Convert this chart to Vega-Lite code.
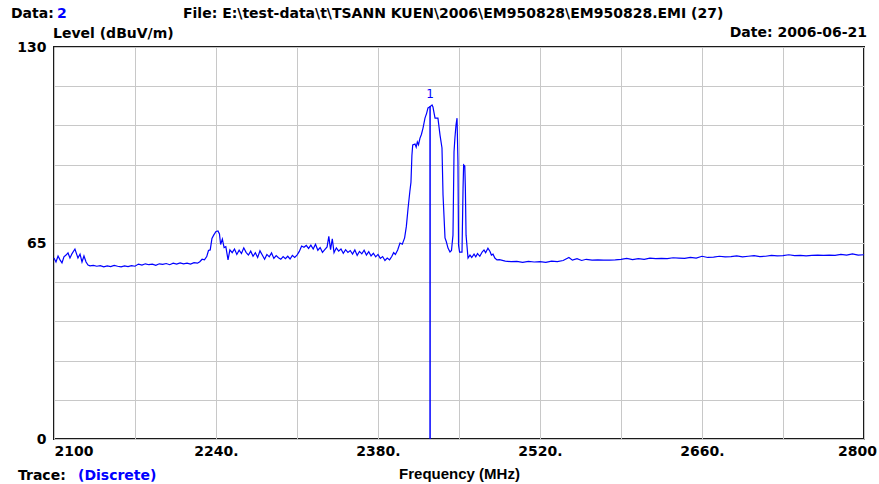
{
  "$schema": "https://vega.github.io/schema/vega-lite/v6.json",
  "width": 810,
  "height": 392,
  "autosize": "none",
  "padding": {"left": 54, "top": 47, "right": 15, "bottom": 45},
  "background": "white",
  "config": {"view": {"stroke": "#1a1a1a", "strokeWidth": 2}, "font": "DejaVu Sans"},
  "datasets": {
    "trace": [
      {"freq": 2100, "level": 60.0}, {"freq": 2101.7, "level": 58.7}, {"freq": 2103.5, "level": 60.7}, {"freq": 2105.2, "level": 59.4},
      {"freq": 2106.9, "level": 58.4}, {"freq": 2108.6, "level": 60.4}, {"freq": 2110.4, "level": 61.0}, {"freq": 2112.1, "level": 61.7},
      {"freq": 2113.8, "level": 60.0}, {"freq": 2115.6, "level": 61.5}, {"freq": 2118.1, "level": 63.0}, {"freq": 2120.7, "level": 60.0},
      {"freq": 2122.5, "level": 61.3}, {"freq": 2124.2, "level": 58.7}, {"freq": 2125.9, "level": 60.7}, {"freq": 2127.7, "level": 58.7},
      {"freq": 2129.4, "level": 57.7}, {"freq": 2131.1, "level": 57.4}, {"freq": 2134, "level": 57.6}, {"freq": 2137, "level": 57.3},
      {"freq": 2140, "level": 57.5}, {"freq": 2143, "level": 57.1}, {"freq": 2146, "level": 57.4}, {"freq": 2149, "level": 57.2},
      {"freq": 2152, "level": 57.6}, {"freq": 2155, "level": 57.3}, {"freq": 2158, "level": 57.1}, {"freq": 2161, "level": 57.4},
      {"freq": 2164, "level": 57.2}, {"freq": 2167, "level": 57.5}, {"freq": 2170, "level": 57.3}, {"freq": 2173, "level": 58.0},
      {"freq": 2176, "level": 57.7}, {"freq": 2179, "level": 58.1}, {"freq": 2182, "level": 57.8}, {"freq": 2185, "level": 58.0},
      {"freq": 2188, "level": 57.6}, {"freq": 2191, "level": 58.1}, {"freq": 2194, "level": 57.9}, {"freq": 2197, "level": 58.2},
      {"freq": 2200, "level": 57.8}, {"freq": 2203, "level": 58.3}, {"freq": 2206, "level": 58.0}, {"freq": 2209, "level": 58.4},
      {"freq": 2212, "level": 58.1}, {"freq": 2215, "level": 58.3}, {"freq": 2218, "level": 58.0}, {"freq": 2221, "level": 58.5},
      {"freq": 2224, "level": 58.3}, {"freq": 2226, "level": 58.8}, {"freq": 2228, "level": 59.6}, {"freq": 2230, "level": 59.4},
      {"freq": 2232, "level": 60.5}, {"freq": 2233.5, "level": 62.5}, {"freq": 2235, "level": 62.7}, {"freq": 2236.5, "level": 66.5},
      {"freq": 2238, "level": 67.6}, {"freq": 2240, "level": 68.8}, {"freq": 2241.7, "level": 69.0}, {"freq": 2243, "level": 68.0},
      {"freq": 2244, "level": 64.5}, {"freq": 2245.5, "level": 66.3}, {"freq": 2247, "level": 63.5}, {"freq": 2248.5, "level": 63.8},
      {"freq": 2250.4, "level": 59.4}, {"freq": 2252, "level": 62.7}, {"freq": 2254, "level": 61.8}, {"freq": 2256, "level": 63.0},
      {"freq": 2258, "level": 61.2}, {"freq": 2260, "level": 62.6}, {"freq": 2262, "level": 61.5}, {"freq": 2264, "level": 63.4},
      {"freq": 2266, "level": 61.9}, {"freq": 2268, "level": 61.0}, {"freq": 2270, "level": 62.3}, {"freq": 2272, "level": 60.6},
      {"freq": 2274, "level": 61.8}, {"freq": 2276, "level": 60.2}, {"freq": 2278, "level": 62.4}, {"freq": 2280, "level": 61.0},
      {"freq": 2282, "level": 59.6}, {"freq": 2284, "level": 61.2}, {"freq": 2286, "level": 60.4}, {"freq": 2288, "level": 61.7},
      {"freq": 2290, "level": 59.9}, {"freq": 2292, "level": 60.8}, {"freq": 2294, "level": 60.1}, {"freq": 2296, "level": 59.6},
      {"freq": 2298, "level": 60.5}, {"freq": 2300, "level": 59.8}, {"freq": 2302, "level": 60.6}, {"freq": 2304, "level": 59.7},
      {"freq": 2306, "level": 60.9}, {"freq": 2308, "level": 60.2}, {"freq": 2310, "level": 61.0}, {"freq": 2312, "level": 62.2},
      {"freq": 2314, "level": 64.0}, {"freq": 2316, "level": 63.6}, {"freq": 2318, "level": 64.2}, {"freq": 2320, "level": 63.2},
      {"freq": 2322, "level": 64.3}, {"freq": 2324, "level": 63.0}, {"freq": 2326, "level": 64.6}, {"freq": 2328, "level": 62.6},
      {"freq": 2330, "level": 63.5}, {"freq": 2332, "level": 61.9}, {"freq": 2334, "level": 62.8}, {"freq": 2336, "level": 63.7},
      {"freq": 2337.5, "level": 67.2}, {"freq": 2339, "level": 62.8}, {"freq": 2340.5, "level": 66.4}, {"freq": 2342, "level": 61.8},
      {"freq": 2344, "level": 63.4}, {"freq": 2346, "level": 62.3}, {"freq": 2348, "level": 63.0}, {"freq": 2350, "level": 61.6},
      {"freq": 2352, "level": 62.8}, {"freq": 2354, "level": 61.9}, {"freq": 2356, "level": 62.5}, {"freq": 2358, "level": 61.3},
      {"freq": 2360, "level": 62.7}, {"freq": 2362, "level": 60.9}, {"freq": 2364, "level": 62.2}, {"freq": 2366, "level": 61.4},
      {"freq": 2368, "level": 62.6}, {"freq": 2370, "level": 61.0}, {"freq": 2372, "level": 62.1}, {"freq": 2374, "level": 60.7},
      {"freq": 2376, "level": 61.6}, {"freq": 2378, "level": 60.4}, {"freq": 2380, "level": 61.2}, {"freq": 2382, "level": 59.9},
      {"freq": 2384, "level": 60.5}, {"freq": 2386, "level": 59.2}, {"freq": 2388, "level": 60.0}, {"freq": 2390, "level": 59.4},
      {"freq": 2392, "level": 60.6}, {"freq": 2393.5, "level": 61.8}, {"freq": 2395, "level": 61.2}, {"freq": 2397, "level": 62.7},
      {"freq": 2399, "level": 65.0}, {"freq": 2401, "level": 64.6}, {"freq": 2403, "level": 66.7}, {"freq": 2404.5, "level": 70.5},
      {"freq": 2406, "level": 76.6}, {"freq": 2407.5, "level": 82.0}, {"freq": 2408.5, "level": 85.2}, {"freq": 2409.3, "level": 94.0},
      {"freq": 2410, "level": 97.5}, {"freq": 2412, "level": 97.8}, {"freq": 2413, "level": 96.8}, {"freq": 2414, "level": 98.5},
      {"freq": 2415, "level": 97.6}, {"freq": 2416.3, "level": 99.8}, {"freq": 2417.5, "level": 101.0}, {"freq": 2418.9, "level": 103.1},
      {"freq": 2420.6, "level": 106.4}, {"freq": 2422, "level": 108.0}, {"freq": 2423.2, "level": 109.8}, {"freq": 2425, "level": 110.2},
      {"freq": 2426.7, "level": 110.8}, {"freq": 2427.5, "level": 110.1}, {"freq": 2428.5, "level": 108.0}, {"freq": 2429.3, "level": 106.4},
      {"freq": 2431.8, "level": 106.4}, {"freq": 2433.6, "level": 100.8}, {"freq": 2435.3, "level": 96.5}, {"freq": 2436.2, "level": 80.9},
      {"freq": 2437.9, "level": 66.7}, {"freq": 2439, "level": 65.5}, {"freq": 2440.5, "level": 63.3}, {"freq": 2442.2, "level": 62.0},
      {"freq": 2443.5, "level": 62.5}, {"freq": 2444.8, "level": 67.6}, {"freq": 2445.7, "level": 95.2}, {"freq": 2446.5, "level": 100.0},
      {"freq": 2447.4, "level": 104.1}, {"freq": 2448.3, "level": 106.4}, {"freq": 2449.1, "level": 91.9}, {"freq": 2449.6, "level": 64.3},
      {"freq": 2450.5, "level": 62.0}, {"freq": 2452.6, "level": 62.0}, {"freq": 2453.5, "level": 83.2}, {"freq": 2454, "level": 90.9},
      {"freq": 2455, "level": 90.5}, {"freq": 2455.5, "level": 83.2}, {"freq": 2456.1, "level": 67.6}, {"freq": 2457.8, "level": 60.0},
      {"freq": 2459.5, "level": 61.0}, {"freq": 2461, "level": 60.2}, {"freq": 2463, "level": 61.3}, {"freq": 2464.5, "level": 60.4},
      {"freq": 2466, "level": 61.5}, {"freq": 2468, "level": 60.6}, {"freq": 2470, "level": 62.0}, {"freq": 2471.6, "level": 62.7},
      {"freq": 2473, "level": 61.8}, {"freq": 2475, "level": 63.3}, {"freq": 2476.8, "level": 62.2}, {"freq": 2478, "level": 61.0},
      {"freq": 2479.4, "level": 61.3}, {"freq": 2481, "level": 60.0}, {"freq": 2482.8, "level": 59.4}, {"freq": 2485, "level": 59.5},
      {"freq": 2490, "level": 59.0}, {"freq": 2495, "level": 58.8}, {"freq": 2500, "level": 58.9}, {"freq": 2505, "level": 58.6},
      {"freq": 2510, "level": 58.9}, {"freq": 2515, "level": 58.7}, {"freq": 2520, "level": 58.8}, {"freq": 2525, "level": 58.6},
      {"freq": 2530, "level": 59.0}, {"freq": 2535, "level": 58.8}, {"freq": 2540, "level": 59.2}, {"freq": 2545, "level": 60.2},
      {"freq": 2548, "level": 59.3}, {"freq": 2552, "level": 59.8}, {"freq": 2556, "level": 59.2}, {"freq": 2560, "level": 59.6},
      {"freq": 2565, "level": 59.3}, {"freq": 2570, "level": 59.4}, {"freq": 2575, "level": 59.3}, {"freq": 2580, "level": 59.3},
      {"freq": 2585, "level": 59.4}, {"freq": 2590, "level": 59.6}, {"freq": 2595, "level": 59.9}, {"freq": 2600, "level": 59.5},
      {"freq": 2605, "level": 59.8}, {"freq": 2610, "level": 59.6}, {"freq": 2615, "level": 60.0}, {"freq": 2620, "level": 59.8},
      {"freq": 2625, "level": 59.9}, {"freq": 2630, "level": 59.8}, {"freq": 2635, "level": 60.1}, {"freq": 2640, "level": 60.0},
      {"freq": 2645, "level": 59.9}, {"freq": 2650, "level": 60.2}, {"freq": 2655, "level": 60.0}, {"freq": 2660, "level": 60.6},
      {"freq": 2665, "level": 60.2}, {"freq": 2670, "level": 60.3}, {"freq": 2675, "level": 60.6}, {"freq": 2680, "level": 60.4},
      {"freq": 2685, "level": 60.5}, {"freq": 2690, "level": 60.7}, {"freq": 2695, "level": 60.4}, {"freq": 2700, "level": 60.6},
      {"freq": 2705, "level": 60.8}, {"freq": 2710, "level": 60.5}, {"freq": 2715, "level": 60.6}, {"freq": 2720, "level": 60.9},
      {"freq": 2725, "level": 60.7}, {"freq": 2730, "level": 60.8}, {"freq": 2735, "level": 61.1}, {"freq": 2740, "level": 60.8},
      {"freq": 2745, "level": 60.9}, {"freq": 2750, "level": 60.7}, {"freq": 2755, "level": 60.9}, {"freq": 2760, "level": 61.0},
      {"freq": 2765, "level": 60.9}, {"freq": 2770, "level": 61.0}, {"freq": 2775, "level": 60.9}, {"freq": 2780, "level": 61.2},
      {"freq": 2785, "level": 61.0}, {"freq": 2790, "level": 61.4}, {"freq": 2795, "level": 61.0}, {"freq": 2800, "level": 61.1}
    ],
    "marker": [{"freq": 2425, "level": 110.4, "label": "1"}]
  },
  "layer": [
    {
      "data": {"name": "trace"},
      "mark": {"type": "line", "color": "#0000ff", "strokeWidth": 1.2},
      "encoding": {
        "x": {
          "field": "freq", "type": "quantitative",
          "scale": {"domain": [2100, 2800], "nice": false, "zero": false},
          "axis": {
            "values": [2100, 2170, 2240, 2310, 2380, 2450, 2520, 2590, 2660, 2730, 2800],
            "tickCount": 30,
            "format": "d",
            "labelExpr": "(datum.value == 2100 || datum.value == 2800) ? datum.label : (indexof([2240, 2380, 2520, 2660], datum.value) >= 0 ? datum.label + '.' : '')",
            "grid": true, "gridColor": "#c8c8c8", "gridWidth": 1,
            "ticks": false, "domain": false,
            "labelFont": "DejaVu Sans", "labelFontWeight": "bold", "labelFontSize": 14, "labelColor": "#000000",
            "labelPadding": 5, "labelFlush": false, "labelOverlap": false,
            "labelAlign": {"condition": {"test": "datum.value == 2100", "value": "left"}, "value": "center"},
            "labelOffset": {"condition": {"test": "datum.value == 2800", "value": -7}, "value": 0},
            "title": "Frequency (MHz)",
            "titleFont": "Liberation Sans", "titleFontSize": 15, "titleFontWeight": "bold", "titleColor": "#000000",
            "titleY": 39, "titleBaseline": "alphabetic"
          }
        },
        "y": {
          "field": "level", "type": "quantitative",
          "scale": {"domain": [0, 130], "nice": false},
          "axis": {
            "values": [0, 13, 26, 39, 52, 65, 78, 91, 104, 117, 130],
            "tickCount": 30,
            "labelExpr": "(datum.value == 0 || datum.value == 65 || datum.value == 130) ? datum.label : ''",
            "grid": true, "gridColor": "#c8c8c8", "gridWidth": 1,
            "ticks": false, "domain": false,
            "labelFont": "DejaVu Sans", "labelFontWeight": "bold", "labelFontSize": 14, "labelColor": "#000000",
            "labelPadding": 8, "labelFlush": false, "labelOverlap": false, "labelBaseline": "middle",
            "title": null
          }
        }
      }
    },
    {
      "data": {"name": "marker"},
      "mark": {"type": "rule", "color": "#0000ff", "strokeWidth": 1.5},
      "encoding": {
        "x": {"field": "freq", "type": "quantitative"},
        "y": {"field": "level", "type": "quantitative"},
        "y2": {"datum": 0}
      }
    },
    {
      "data": {"name": "marker"},
      "mark": {"type": "text", "color": "#0000ff", "font": "DejaVu Sans", "fontSize": 12, "baseline": "alphabetic", "dy": -8},
      "encoding": {
        "x": {"field": "freq", "type": "quantitative"},
        "y": {"field": "level", "type": "quantitative"},
        "text": {"field": "label"}
      }
    },
    {
      "data": {"values": [{}]},
      "mark": {"type": "text", "text": "Data:", "align": "left", "baseline": "alphabetic", "dx": -43, "dy": -29, "font": "DejaVu Sans", "fontWeight": "bold", "fontSize": 14, "color": "#000000"},
      "encoding": {"x": {"datum": 2100}, "y": {"datum": 130}}
    },
    {
      "data": {"values": [{}]},
      "mark": {"type": "text", "text": "2", "align": "left", "baseline": "alphabetic", "dx": 3, "dy": -29, "font": "DejaVu Sans", "fontWeight": "bold", "fontSize": 14, "color": "#0000ff"},
      "encoding": {"x": {"datum": 2100}, "y": {"datum": 130}}
    },
    {
      "data": {"values": [{}]},
      "mark": {"type": "text", "text": "File: E:\\test-data\\t\\TSANN KUEN\\2006\\EM950828\\EM950828.EMI  (27)", "align": "left", "baseline": "alphabetic", "dx": 129, "dy": -29, "font": "DejaVu Sans", "fontWeight": "bold", "fontSize": 14, "color": "#000000"},
      "encoding": {"x": {"datum": 2100}, "y": {"datum": 130}}
    },
    {
      "data": {"values": [{}]},
      "mark": {"type": "text", "text": "Level (dBuV/m)", "align": "left", "baseline": "alphabetic", "dx": -1, "dy": -9, "font": "DejaVu Sans", "fontWeight": "bold", "fontSize": 14, "color": "#000000"},
      "encoding": {"x": {"datum": 2100}, "y": {"datum": 130}}
    },
    {
      "data": {"values": [{}]},
      "mark": {"type": "text", "text": "Date: 2006-06-21", "align": "right", "baseline": "alphabetic", "dx": 3, "dy": -10, "font": "DejaVu Sans", "fontWeight": "bold", "fontSize": 14, "color": "#000000"},
      "encoding": {"x": {"datum": 2800}, "y": {"datum": 130}}
    },
    {
      "data": {"values": [{}]},
      "mark": {"type": "text", "text": "Trace:", "align": "left", "baseline": "alphabetic", "dx": -36, "dy": 41, "font": "DejaVu Sans", "fontWeight": "bold", "fontSize": 14, "color": "#000000"},
      "encoding": {"x": {"datum": 2100}, "y": {"datum": 0}}
    },
    {
      "data": {"values": [{}]},
      "mark": {"type": "text", "text": "(Discrete)", "align": "left", "baseline": "alphabetic", "dx": 24, "dy": 41, "font": "DejaVu Sans", "fontWeight": "bold", "fontSize": 14, "color": "#0000ff"},
      "encoding": {"x": {"datum": 2100}, "y": {"datum": 0}}
    }
  ]
}
